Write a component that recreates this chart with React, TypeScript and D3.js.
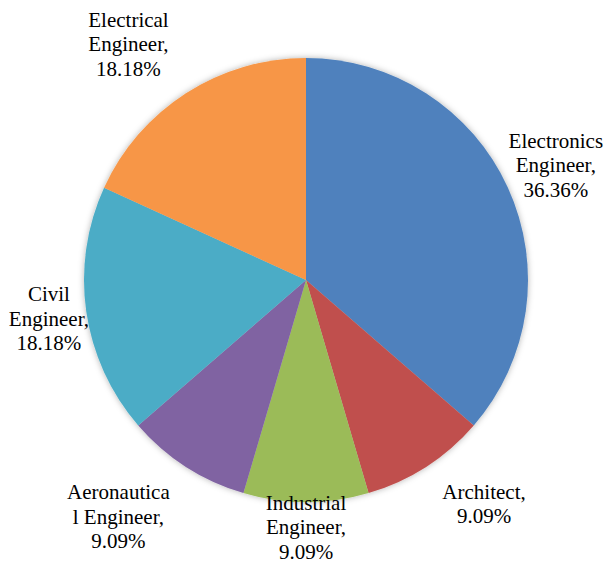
import React from "react";
import * as d3 from "d3";

const categories = [
  "Electronics Engineer",
  "Architect",
  "Industrial Engineer",
  "Aeronautical Engineer",
  "Civil Engineer",
  "Electrical Engineer",
];
const values = [4, 1, 1, 1, 2, 2];
const labelLines = [
  ["Electronics", "Engineer,", "36.36%"],
  ["Architect,", "9.09%"],
  ["Industrial", "Engineer,", "9.09%"],
  ["Aeronautica", "l Engineer,", "9.09%"],
  ["Civil", "Engineer,", "18.18%"],
  ["Electrical", "Engineer,", "18.18%"],
];
const colors = ["#4F81BD", "#C0504D", "#9BBB59", "#8064A2", "#4BACC6", "#F79646"];

// label placement (angle in degrees clockwise from top, distance from centre)
const labelLayout = [
  { angle: 65.3, dist: 275 },
  { angle: 141.5, dist: 286 },
  { angle: 180, dist: 247 },
  { angle: 218.4, dist: 302 },
  { angle: 261.4, dist: 260 },
  { angle: 323, dist: 295 },
];

const W = 604;
const H = 562;
const cx = 306;
const cy = 280;
const R = 222;
const LINE_H = 24.5;
const FONT = '"Liberation Serif", "Times New Roman", serif';

export default function App() {
  const pie = d3.pie<number>().sort(null).value((d) => d)(values);
  const arc = d3.arc<d3.PieArcDatum<number>>().innerRadius(0).outerRadius(R);

  return (
    <svg
      width={W}
      height={H}
      style={{ position: "absolute", left: 0, top: 0, background: "#fff" }}
    >
      <defs>
        <filter id="glow" x="-10%" y="-10%" width="120%" height="120%">
          <feDropShadow dx="0" dy="0" stdDeviation="3" floodColor="#000" floodOpacity="0.3" />
        </filter>
      </defs>
      <g transform={`translate(${cx},${cy})`}>
        <g filter="url(#glow)">
          {pie.map((p, i) => (
            <path key={categories[i]} d={arc(p) || ""} fill={colors[i]} />
          ))}
        </g>
        {pie.map((p, i) => {
          const a = (labelLayout[i].angle * Math.PI) / 180;
          const x = labelLayout[i].dist * Math.sin(a);
          const y = -labelLayout[i].dist * Math.cos(a);
          const lines = labelLines[i];
          return (
            <text
              key={"l" + i}
              textAnchor="middle"
              fill="#000"
              style={{ fontFamily: FONT, fontSize: "21px" }}
            >
              {lines.map((ln, j) => (
                <tspan key={j} x={x} y={y + (j - (lines.length - 1) / 2) * LINE_H + 7}>
                  {ln}
                </tspan>
              ))}
            </text>
          );
        })}
      </g>
    </svg>
  );
}
